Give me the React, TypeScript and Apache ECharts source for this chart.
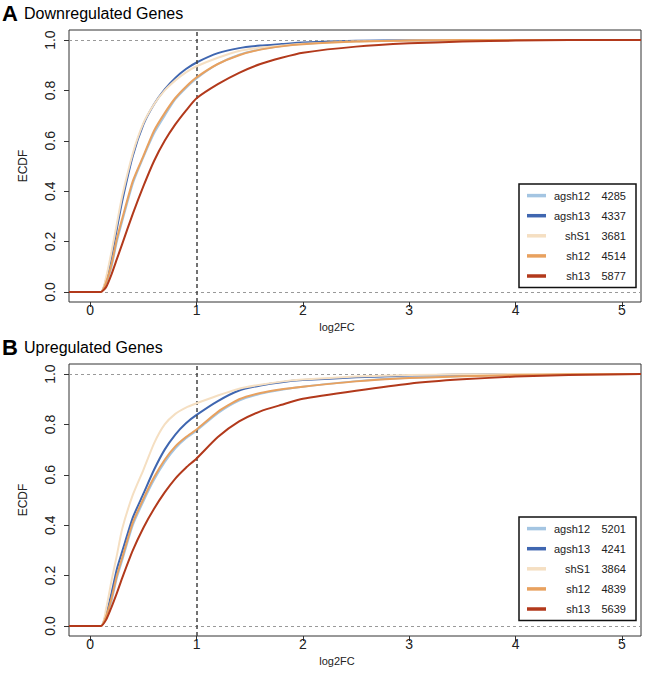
import React, { useEffect, useRef } from "react";
import * as echarts from "echarts";

// ---------- data ----------
const seriesNames = ["agsh12", "agsh13", "shS1", "sh12", "sh13"];
const seriesColors = ["#a4c5e2", "#3f66b0", "#f5dfc2", "#e8a15f", "#b2391b"];
const countsDown = ["4285", "4337", "3681", "4514", "5877"];
const countsUp = ["5201", "4241", "3864", "4839", "5639"];

const xGrid = [-0.2, 0.1, 0.15, 0.2, 0.25, 0.3, 0.4, 0.5, 0.6, 0.7, 0.8, 0.9, 1.0, 1.2, 1.4, 1.6, 1.8, 2.0, 2.5, 3.0, 3.5, 4.0, 4.5, 5.18];

// Downregulated genes (panel A)
const downAgsh12 = [0, 0, 0.035, 0.1, 0.2, 0.28, 0.43, 0.535, 0.63, 0.7, 0.765, 0.81, 0.848, 0.905, 0.942, 0.963, 0.976, 0.985, 0.995, 0.999, 1, 1, 1, 1];
const downAgsh13 = [0, 0, 0.05, 0.14, 0.25, 0.36, 0.54, 0.665, 0.745, 0.804, 0.85, 0.885, 0.911, 0.948, 0.968, 0.978, 0.984, 0.99, 0.997, 0.999, 1, 1, 1, 1];
const downShS1 = [0, 0, 0.06, 0.16, 0.27, 0.38, 0.55, 0.67, 0.745, 0.8, 0.84, 0.872, 0.896, 0.93, 0.957, 0.97, 0.978, 0.985, 0.994, 0.998, 1, 1, 1, 1];
const downSh12 = [0, 0, 0.04, 0.11, 0.21, 0.29, 0.44, 0.54, 0.64, 0.71, 0.77, 0.815, 0.852, 0.905, 0.94, 0.962, 0.975, 0.983, 0.994, 0.998, 1, 1, 1, 1];
const downSh13 = [0, 0, 0.02, 0.07, 0.13, 0.19, 0.31, 0.42, 0.52, 0.6, 0.665, 0.72, 0.769, 0.825, 0.87, 0.905, 0.93, 0.95, 0.974, 0.987, 0.994, 0.998, 1, 1];

// Upregulated genes (panel B)
const upAgsh12 = [0, 0, 0.035, 0.1, 0.19, 0.26, 0.4, 0.495, 0.58, 0.65, 0.705, 0.745, 0.775, 0.845, 0.895, 0.922, 0.938, 0.95, 0.972, 0.985, 0.992, 0.997, 1, 1];
const upAgsh13 = [0, 0, 0.05, 0.13, 0.225, 0.295, 0.43, 0.525, 0.62, 0.7, 0.76, 0.805, 0.838, 0.893, 0.935, 0.955, 0.968, 0.976, 0.987, 0.994, 0.998, 1, 1, 1];
const upShS1 = [0, 0, 0.07, 0.18, 0.28, 0.385, 0.52, 0.62, 0.725, 0.8, 0.842, 0.867, 0.884, 0.915, 0.942, 0.958, 0.97, 0.978, 0.99, 0.996, 0.999, 1, 1, 1];
const upSh12 = [0, 0, 0.04, 0.11, 0.2, 0.27, 0.41, 0.505, 0.59, 0.66, 0.713, 0.75, 0.78, 0.85, 0.9, 0.925, 0.94, 0.95, 0.971, 0.984, 0.991, 0.996, 0.999, 1];
const upSh13 = [0, 0, 0.025, 0.075, 0.13, 0.19, 0.3, 0.39, 0.465, 0.53, 0.585, 0.628, 0.665, 0.75, 0.812, 0.852, 0.878, 0.902, 0.934, 0.962, 0.979, 0.99, 0.996, 1];

const xTicks = [0, 1, 2, 3, 4, 5];
const yTicks = [0, 0.2, 0.4, 0.6, 0.8, 1.0];

const panelTitles = [
  { letter: "A", text: "Downregulated Genes" },
  { letter: "B", text: "Upregulated Genes" },
];

// ---------- layout ----------
const FONT = "'Liberation Sans', Arial, Helvetica, sans-serif";
const GRID_LEFT = 69;
const GRID_WIDTH = 572;
const GRID_TOPS = [30, 364];
const GRID_HEIGHT = 272;

const App: React.FC = () => {
  const ref = useRef<HTMLDivElement>(null);

  useEffect(() => {
    if (!ref.current) return;
    const chart = echarts.init(ref.current, undefined, { renderer: "svg" });

    const downData = [downAgsh12, downAgsh13, downShS1, downSh12, downSh13];
    const upData = [upAgsh12, upAgsh13, upShS1, upSh12, upSh13];
    const panels = [downData, upData];
    const counts = [countsDown, countsUp];

    const grids = GRID_TOPS.map((top) => ({
      left: GRID_LEFT,
      top,
      width: GRID_WIDTH,
      height: GRID_HEIGHT,
      show: true,
      borderColor: "#333",
      borderWidth: 1,
      backgroundColor: "transparent",
    }));

    const xAxes = GRID_TOPS.map((_, i) => ({
      type: "value",
      gridIndex: i,
      min: -0.2,
      max: 5.18,
      splitLine: { show: false },
      axisLine: { show: false, onZero: false },
      axisTick: { show: true, customValues: xTicks, length: 5, lineStyle: { color: "#333" } },
      axisLabel: {
        show: true,
        customValues: xTicks,
        fontSize: 14,
        color: "#222",
        fontFamily: FONT,
        margin: 1,
      },
    }));

    const yAxes = GRID_TOPS.map((_, i) => ({
      type: "value",
      gridIndex: i,
      min: -0.04,
      max: 1.04,
      splitLine: { show: false },
      axisLine: { show: false, onZero: false },
      axisTick: { show: true, customValues: yTicks, length: 5, lineStyle: { color: "#333" } },
      axisLabel: {
        show: true,
        customValues: yTicks,
        rotate: 90,
        align: "center",
        verticalAlign: "bottom",
        fontSize: 14,
        color: "#222",
        fontFamily: FONT,
        margin: 12,
        formatter: (v: number) => v.toFixed(1),
      },
    }));

    const series: any[] = [];
    panels.forEach((data, p) => {
      data.forEach((ys, s) => {
        series.push({
          type: "line",
          name: seriesNames[s],
          xAxisIndex: p,
          yAxisIndex: p,
          data: xGrid.map((x, k) => [x, ys[k]]),
          showSymbol: false,
          smooth: 0.2,
          lineStyle: { color: seriesColors[s], width: 2 },
          itemStyle: { color: seriesColors[s] },
          z: 3 + s,
          markLine:
            s === 0
              ? {
                  silent: true,
                  symbol: "none",
                  label: { show: false },
                  animation: false,
                  data: [
                    { yAxis: 0, lineStyle: { color: "#999", type: [3, 3], width: 1 } },
                    { yAxis: 1, lineStyle: { color: "#999", type: [3, 3], width: 1 } },
                    { xAxis: 1, lineStyle: { color: "#444", type: [4, 3], width: 1.5 } },
                  ],
                }
              : undefined,
        });
      });
    });

    const graphic: any[] = [];
    panelTitles.forEach((t, p) => {
      const yOff = p === 0 ? 0 : 334;
      graphic.push({
        type: "text",
        left: 2,
        top: 2 + yOff,
        style: { text: t.letter, font: `bold 22px ${FONT}`, fill: "#000" },
      });
      graphic.push({
        type: "text",
        left: 24,
        top: 5 + yOff,
        style: { text: t.text, font: `16px ${FONT}`, fill: "#000" },
      });
      // axis titles
      graphic.push({
        type: "text",
        x: 337,
        y: 327 + yOff,
        style: { text: "log2FC", font: `11px ${FONT}`, fill: "#222", align: "center", verticalAlign: "middle" },
      });
      graphic.push({
        type: "text",
        x: 23,
        y: GRID_TOPS[p] + GRID_HEIGHT / 2,
        rotation: Math.PI / 2,
        style: { text: "ECDF", font: `12px ${FONT}`, fill: "#222", align: "center", verticalAlign: "middle" },
      });

      // legend
      const boxTop = p === 0 ? 184 : 517;
      const boxLeft = 519;
      const boxW = 117;
      const boxH = 103.5;
      const rowStep = 20.1;
      const firstRow = boxTop + 11.6;
      graphic.push({
        type: "rect",
        shape: { x: boxLeft, y: boxTop, width: boxW, height: boxH },
        style: { fill: "#fff", stroke: "#111", lineWidth: 1.5 },
        z: 20,
      });
      seriesNames.forEach((name, s) => {
        const cy = firstRow + s * rowStep;
        graphic.push({
          type: "line",
          shape: { x1: 527, y1: cy, x2: 546, y2: cy },
          style: { stroke: seriesColors[s], lineWidth: 3.5 },
          z: 21,
        });
        graphic.push({
          type: "text",
          x: 590,
          y: cy,
          style: { text: name, font: `11px ${FONT}`, fill: "#222", align: "right", verticalAlign: "middle" },
          z: 21,
        });
        graphic.push({
          type: "text",
          x: 601.5,
          y: cy,
          style: { text: counts[p][s], font: `11px ${FONT}`, fill: "#222", align: "left", verticalAlign: "middle" },
          z: 21,
        });
      });
    });

    chart.setOption({
      animation: false,
      backgroundColor: "#fff",
      textStyle: { fontFamily: FONT },
      grid: grids,
      xAxis: xAxes,
      yAxis: yAxes,
      series,
      graphic,
    });

    return () => chart.dispose();
  }, []);

  return (
    <div
      ref={ref}
      style={{ position: "absolute", left: 0, top: 0, width: 647, height: 673, background: "#fff" }}
    />
  );
};

export default App;
